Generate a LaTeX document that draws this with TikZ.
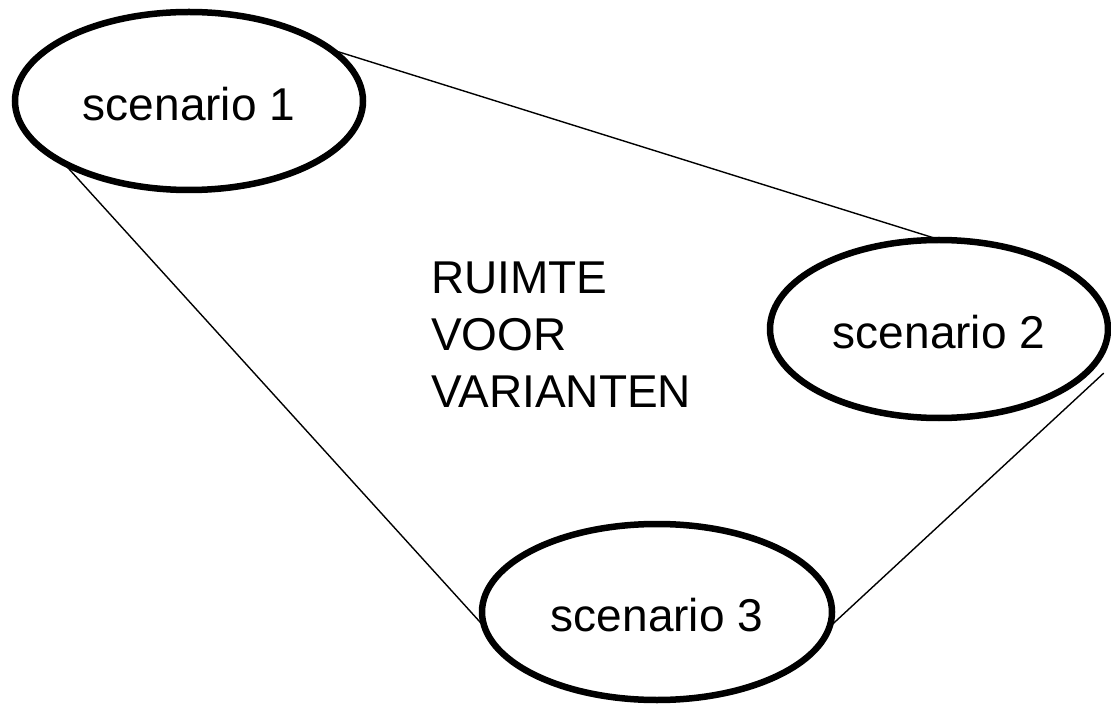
\documentclass[tikz,border=0pt]{standalone}
\usepackage{fontspec}
\setmainfont{Liberation Sans}
\usetikzlibrary{shapes.geometric,calc}
\begin{document}
\begin{tikzpicture}[x=1pt,y=-1pt,
  scen/.style={ellipse, draw=black, line width=6.5pt, inner sep=0pt, outer sep=0pt,
    text height=39pt, text depth=0pt,
    font=\fontsize{46}{57}\selectfont},
  link/.style={draw=black, line width=1.4pt}]
\useasboundingbox (0,0) rectangle (1111,708);
\node[scen, minimum width=348pt, minimum height=178pt] (s1) at (189,101) {scenario 1};
\node[scen, minimum width=338pt, minimum height=178pt] (s2) at (939,329) {scenario 2};
\node[scen, minimum width=350pt, minimum height=176pt] (s3) at (657,612) {scenario 3};
\node[anchor=north west, inner sep=0pt, align=left, font=\fontsize{46}{57}\selectfont] (txt) at (431,262) {RUIMTE\\VOOR\\VARIANTEN};
\draw[link] (s1.20) -- (s2.89);
\draw[link] (s1.206) -- (s3.185);
\draw[link] ($(s2.-14)+(12,6)$) -- (s3.-5);
\end{tikzpicture}
\end{document}
